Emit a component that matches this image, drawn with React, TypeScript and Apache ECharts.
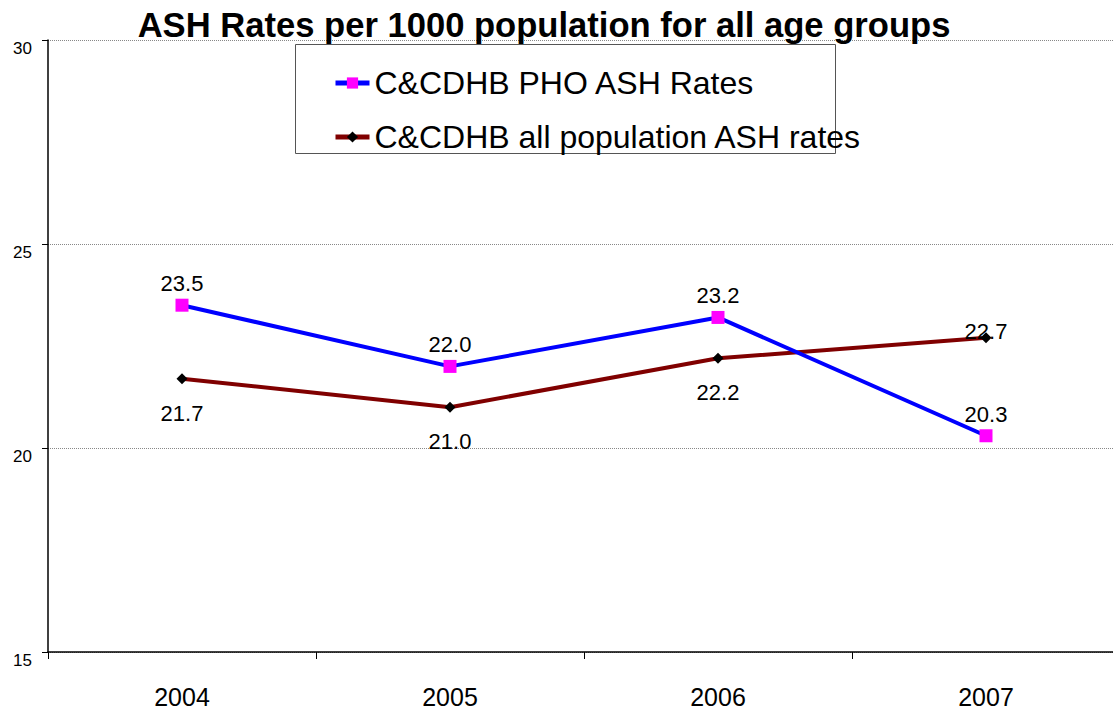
import React, { useEffect, useRef } from "react";
import * as echarts from "echarts";

const years = ["2004", "2005", "2006", "2007"];
const phoRates = [23.5, 22.0, 23.2, 20.3];
const allPopRates = [21.7, 21.0, 22.2, 22.7];
const phoName = "C&CDHB PHO ASH Rates";
const allPopName = "C&CDHB all population ASH rates";
const titleText = "ASH Rates per 1000 population for all age groups";

export default function App() {
  const ref = useRef<HTMLDivElement>(null);

  useEffect(() => {
    if (!ref.current) return;
    const chart = echarts.init(ref.current, null, { renderer: "svg" });
    const font = "Liberation Sans, Arial, Helvetica, sans-serif";

    chart.setOption({
      animation: false,
      textStyle: { fontFamily: font },
      title: {
        text: titleText,
        left: 539,
        textAlign: "center",
        top: 2,
        textStyle: { fontSize: 34.6, fontWeight: "bold", color: "#000", fontFamily: font },
      },
      graphic: [
        {
          type: "rect",
          shape: { x: 295.5, y: 44.5, width: 540, height: 109 },
          style: { fill: "#fff", stroke: "#555", lineWidth: 1 },
          z: 5,
        },
      ],
      legend: {
        orient: "vertical",
        left: 328,
        top: 62,
        itemWidth: 34,
        itemHeight: 14,
        itemGap: 22,
        z: 10,
        textStyle: { fontSize: 32, color: "#000", fontFamily: font },
        data: [
          { name: phoName, lineStyle: { width: 5 } },
          { name: allPopName, lineStyle: { width: 5 } },
        ],
      },
      // plot area runs slightly past the right edge of the visible frame
      grid: { left: 48, right: 10, top: 40, bottom: 59, containLabel: false },
      xAxis: {
        type: "category",
        data: years,
        boundaryGap: true,
        axisLine: { lineStyle: { color: "#000", width: 1.5 } },
        axisTick: { show: true, length: 7, lineStyle: { color: "#000" } },
        axisLabel: { fontSize: 25, color: "#000", margin: 32, fontFamily: font },
      },
      yAxis: {
        type: "value",
        min: 15,
        max: 30,
        interval: 5,
        axisLine: { show: true, lineStyle: { color: "#000", width: 1.5 } },
        axisTick: { show: true, length: 6, lineStyle: { color: "#000" } },
        axisLabel: {
          fontSize: 17,
          color: "#000",
          margin: 16,
          verticalAlign: "top",
          fontFamily: font,
        },
        splitLine: { show: true, lineStyle: { color: "#888", type: [1, 1], width: 1 } },
      },
      series: [
        {
          name: phoName,
          type: "line",
          data: phoRates,
          symbol: "rect",
          symbolSize: 13,
          itemStyle: { color: "#ff00ff" },
          lineStyle: { color: "#0000ff", width: 4 },
          z: 3,
          label: {
            show: true,
            position: "top",
            distance: 4,
            fontSize: 22,
            color: "#000",
            fontFamily: font,
            formatter: (p: any) => Number(p.value).toFixed(1),
          },
        },
        {
          name: allPopName,
          type: "line",
          data: allPopRates.map((v, i) =>
            i === allPopRates.length - 1
              ? { value: v, label: { position: "top", distance: -10 } }
              : v
          ),
          symbol: "diamond",
          symbolSize: 11,
          itemStyle: { color: "#000" },
          lineStyle: { color: "#800000", width: 4 },
          z: 2,
          label: {
            show: true,
            position: "bottom",
            distance: 18,
            fontSize: 22,
            color: "#000",
            fontFamily: font,
            formatter: (p: any) => Number(p.value).toFixed(1),
          },
        },
      ],
    });

    return () => chart.dispose();
  }, []);

  return (
    <div
      style={{
        position: "absolute",
        left: 0,
        top: 0,
        width: 1113,
        height: 711,
        overflow: "hidden",
      }}
    >
      <div ref={ref} style={{ width: 1130, height: 711 }} />
    </div>
  );
}
